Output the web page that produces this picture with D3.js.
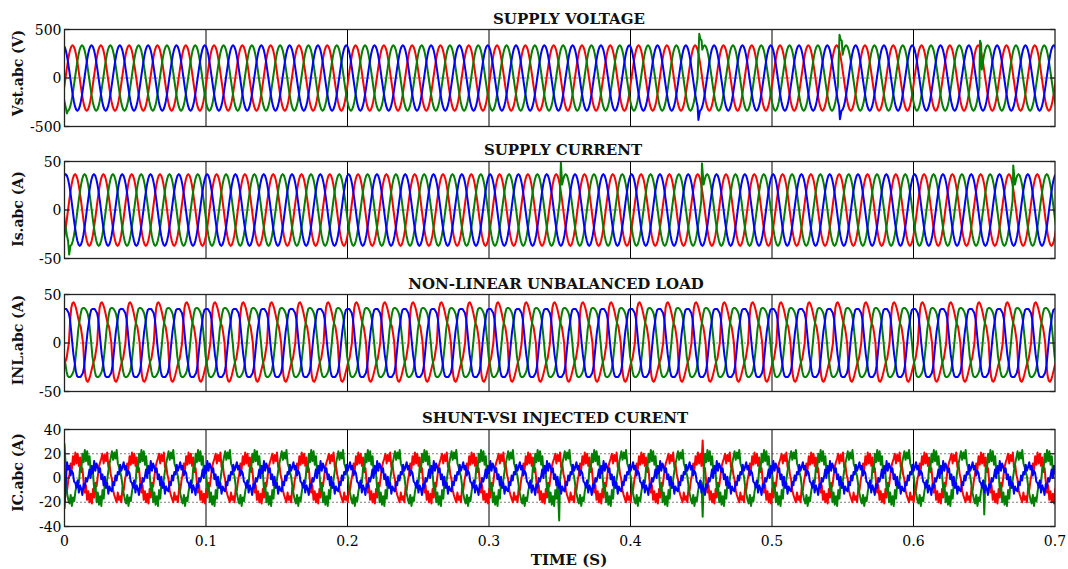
<!DOCTYPE html>
<html><head><meta charset="utf-8">
<script src="https://cdn.jsdelivr.net/npm/d3@7/dist/d3.min.js"></script>
<style>body{margin:0;background:#fff}svg{display:block}</style>
</head><body>
<svg id="chart" width="1068" height="569"></svg>
<script>
// ---------------- data ----------------
const timeTicks = [0, 0.1, 0.2, 0.3, 0.4, 0.5, 0.6, 0.7];
const timeTickLabels = ["0", "0.1", "0.2", "0.3", "0.4", "0.5", "0.6", "0.7"];
const timeRange = [0, 0.7];
const cyclePeriod = 0.02;               // 50 Hz
const samplesPerCycle = 24;
const phaseColors = ["#ff0000", "#008000", "#0000ff"];

const panelTitles = ["SUPPLY VOLTAGE", "SUPPLY CURRENT", "NON-LINEAR UNBALANCED LOAD", "SHUNT-VSI INJECTED CURENT"];
const yLabels = ["Vst.abc (V)", "Is.abc (A)", "INL.abc (A)", "IC.abc (A)"];
const yDomains = [[-500, 500], [-50, 50], [-50, 50], [-40, 40]];
const yTicks = [[-500, 0, 500], [-50, 0, 50], [-50, 0, 50], [-40, -20, 0, 20, 40]];
const yGrid = [[0], [0], [0], [-20, 0, 20]];

// traces, 24 samples (15 deg apart) per cycle
const vstCycle = [0, 87, 169, 239, 293, 326, 338, 326, 293, 239, 169, 87, 0, -87, -169, -239, -293, -326, -338, -326, -293, -239, -169, -87];
const vstStart = [0.0007, 0.0074, 0.0141];   // rising zero crossing of a, b, c

const isCycle = [0, 9.6, 18.5, 26.2, 32, 35.7, 37, 35.7, 32, 26.2, 18.5, 9.6, 0, -9.6, -18.5, -26.2, -32, -35.7, -37, -35.7, -32, -26.2, -18.5, -9.6];
const isStart = [0.0025, 0.0092, 0.0158];

const inlCycleA = [0, 22, 36, 41, 42, 40, 36, 31, 25, 20, 17, 9, 0, -21, -34, -39, -40, -38, -34, -29, -24, -19, -16, -8];
const inlCycleB = [0, 14, 22, 30, 35, 36, 36, 35, 33, 30, 24, 12, 0, -14, -21, -29, -34, -35, -35, -34, -32, -29, -23, -12];
const inlCycleC = [0, 12, 20, 29, 34, 35, 35, 35, 33, 31, 25, 13, 0, -12, -20, -29, -34, -35, -35, -35, -33, -31, -25, -13];
const inlStart = [0.0031, 0.0089, 0.0155];

// compensator currents: two cycles each (48 samples) to keep the switching ripple irregular
const icCycleA = [3, 12, 7, 18, 11, 21, 12, 20, 10, 17, 5, 8, -3, -12, -6, -18, -11, -20, -13, -21, -9, -16, -4, -7,
                  1, 9, 13, 16, 20, 12, 19, 14, 21, 9, 11, 3, -1, -10, -14, -17, -20, -12, -18, -15, -20, -8, -10, -2];
const icCycleB = [-4, 9, 6, 20, 13, 23, 14, 22, 11, 18, 4, 7, 3, -10, -5, -20, -12, -22, -15, -23, -10, -17, -3, -8,
                  -1, 6, 12, 17, 22, 15, 21, 16, 23, 12, 9, 5, 1, -7, -13, -18, -21, -14, -23, -16, -19, -11, -6, -2];
const icCycleC = [1, 7, 0, 10, 4, 14, 6, 12, 9, 5, 8, -1, 3, -6, 1, -8, -4, -13, -7, -10, -11, -3, -6, 2,
                  -2, 5, 3, 11, 6, 9, 13, 7, 10, 2, 6, 4, -3, -4, -8, -2, -12, -6, -9, -14, -5, -8, 0, -3];
const icStart = [0.0035, 0.0102, 0.0168];

// transients: [phase index, time (s), value]
const vstEvents = [[1, 0.0017, -365], [1, 0.4486, 455], [1, 0.4494, 400], [1, 0.4502, 390], [2, 0.4480, -432],
                   [1, 0.5477, 445], [1, 0.5485, 395], [1, 0.5493, 385], [2, 0.5480, -425],
                   [1, 0.6470, 385], [1, 0.6478, 350]];
const isEvents = [[1, 0.0033, -46], [1, 0.3508, 49], [1, 0.4505, 48], [1, 0.6705, 46]];
const inlEvents = [];
const icEvents = [[1, 0, 28], [1, 0.0008, 10], [2, 0, -25], [2, 0.0008, -5],
                  [1, 0.3496, -35], [0, 0.4510, 31], [1, 0.4510, -32], [1, 0.6500, -30]];

const panelCycles = [[vstCycle, vstCycle, vstCycle], [isCycle, isCycle, isCycle],
                     [inlCycleA, inlCycleB, inlCycleC], [icCycleA, icCycleB, icCycleC]];
const panelStarts = [vstStart, isStart, inlStart, icStart];
const panelEvents = [vstEvents, isEvents, inlEvents, icEvents];

// ---------------- layout ----------------
const plotX0 = 64.5, plotX1 = 1055;
const panelTop = [29.5, 161.5, 294.5, 429.5];
const panelH = 97;
const titleX = [569, 563, 556, 555];
const titleBaseline = [24, 155, 289, 423];
const yLabelCenter = [73, 209, 340, 472.5];
const serif = "'DejaVu Serif', serif";

const svg = d3.select("#chart");
const x = d3.scaleLinear().domain(timeRange).range([plotX0, plotX1]);

function buildSeries(cycle, start, events, phase) {
  const n = cycle.length;
  const span = cyclePeriod * n / samplesPerCycle;
  const pts = [];
  outer: for (let k = -2; k < 100; k++) {
    for (let i = 0; i < n; i++) {
      const t = start + (k + i / n) * span;
      if (t < -0.001) continue;
      if (t > timeRange[1] + 0.001) break outer;
      pts.push([t, cycle[i]]);
    }
  }
  const ev = events.filter(e => e[0] === phase);
  let out = pts.filter(p => !ev.some(e => Math.abs(p[0] - e[1]) < 0.0004));
  ev.forEach(e => out.push([e[1], e[2]]));
  out.sort((a, b) => a[0] - b[0]);
  return out;
}

panelTop.forEach((top, p) => {
  const y = d3.scaleLinear().domain(yDomains[p]).range([top + panelH, top]);
  const g = svg.append("g");
  const clipId = "clip" + p;
  svg.append("clipPath").attr("id", clipId).append("rect")
    .attr("x", plotX0).attr("y", top).attr("width", plotX1 - plotX0).attr("height", panelH);

  // grid
  g.selectAll(".hg").data(yGrid[p]).enter().append("line")
    .attr("x1", plotX0).attr("x2", plotX1).attr("y1", d => y(d)).attr("y2", d => y(d))
    .attr("stroke", "#000").attr("stroke-width", 1).attr("stroke-dasharray", "1,3");
  g.selectAll(".vg").data(timeTicks.slice(1, -1)).enter().append("line")
    .attr("x1", d => x(d)).attr("x2", d => x(d)).attr("y1", top).attr("y2", top + panelH)
    .attr("stroke", "#000").attr("stroke-width", 1);

  // traces
  const line = d3.line().x(d => x(d[0])).y(d => y(d[1]));
  const lg = g.append("g").attr("clip-path", `url(#${clipId})`);
  [0, 1, 2].forEach(ph => {
    const data = buildSeries(panelCycles[p][ph], panelStarts[p][ph], panelEvents[p], ph);
    lg.append("path").datum(data).attr("d", line)
      .attr("fill", "none").attr("stroke", phaseColors[ph])
      .attr("stroke-width", 2).attr("stroke-linejoin", "round");
  });

  // box
  g.append("rect").attr("x", plotX0).attr("y", top).attr("width", plotX1 - plotX0).attr("height", panelH)
    .attr("fill", "none").attr("stroke", "#222").attr("stroke-width", 1.3);

  // y ticks (inside, both sides)
  yTicks[p].forEach(v => {
    g.append("line").attr("x1", plotX0).attr("x2", plotX0 + 5).attr("y1", y(v)).attr("y2", y(v))
      .attr("stroke", "#222").attr("stroke-width", 1.3);
    g.append("line").attr("x1", plotX1 - 5).attr("x2", plotX1).attr("y1", y(v)).attr("y2", y(v))
      .attr("stroke", "#222").attr("stroke-width", 1.3);
    g.append("text").attr("x", plotX0 - 3).attr("y", y(v) + 5)
      .attr("text-anchor", "end").attr("font-family", serif).attr("font-size", 14)
      .attr("fill", "#000").text(String(v));
  });

  // title
  g.append("text").attr("x", titleX[p]).attr("y", titleBaseline[p]).attr("text-anchor", "middle")
    .attr("font-family", serif).attr("font-weight", "bold").attr("font-size", 15)
    .attr("fill", "#111").text(panelTitles[p]);

  // y label
  g.append("text").attr("transform", `translate(23,${yLabelCenter[p]}) rotate(-90)`)
    .attr("text-anchor", "middle").attr("font-family", serif).attr("font-weight", "bold")
    .attr("font-size", 14).attr("fill", "#111").text(yLabels[p]);

  if (p === panelTop.length - 1) {
    timeTicks.forEach((t, i) => {
      g.append("text").attr("x", x(t)).attr("y", 546).attr("text-anchor", "middle")
        .attr("font-family", serif).attr("font-size", 14).attr("fill", "#000").text(timeTickLabels[i]);
    });
    g.append("text").attr("x", 569).attr("y", 564.5).attr("text-anchor", "middle")
      .attr("font-family", serif).attr("font-weight", "bold").attr("font-size", 15)
      .attr("fill", "#111").text("TIME (S)");
  }
});
</script>
</body></html>
